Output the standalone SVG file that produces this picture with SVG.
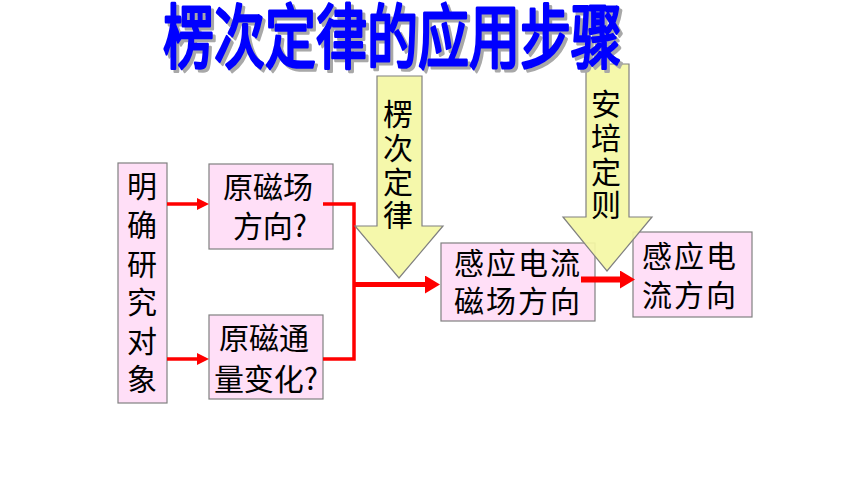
<svg xmlns="http://www.w3.org/2000/svg" width="860" height="484" viewBox="0 0 860 484">
<style>
.box{fill:#FFDFF7;stroke:#808080;stroke-width:1.2}
.yarrow{fill:#F4F7A4;stroke:#808080;stroke-width:1.2;fill-opacity:0.92}
.t{font-family:"Noto Sans CJK SC","Noto Sans",sans-serif;font-size:30px;fill:#000}
.c{text-anchor:middle}
.red{stroke:#FF0000;fill:none}
.title{font-family:"Noto Sans CJK SC","Noto Sans",sans-serif;font-size:51px;font-weight:normal;stroke-width:2.2;stroke-linejoin:round}
</style>
<defs>
<marker id="ah" markerWidth="12" markerHeight="12" refX="0" refY="6" orient="auto" markerUnits="userSpaceOnUse">
<path d="M0,0 L12,6 L0,12 Z" fill="#FF0000"/>
</marker>
<marker id="ahb" markerWidth="15" markerHeight="18" refX="0" refY="9" orient="auto" markerUnits="userSpaceOnUse">
<path d="M0,0 L15,9 L0,18 Z" fill="#FF0000"/>
</marker>
</defs>
<rect width="860" height="484" fill="#FFFFFF"/>

<g id="node-object">
<rect class="box" x="118" y="163" width="49" height="240"/>
<text class="t c" x="142" y="197">明</text>
<text class="t c" x="142" y="236">确</text>
<text class="t c" x="142" y="275">研</text>
<text class="t c" x="142" y="313">究</text>
<text class="t c" x="142" y="352">对</text>
<text class="t c" x="142" y="390">象</text>
</g>

<g id="node-field">
<rect class="box" x="209" y="164" width="124" height="85"/>
<text class="t c" x="268" y="198">原磁场</text>
<text class="t c" x="270" y="237">方向?</text>
</g>

<g id="node-flux">
<rect class="box" x="209" y="315" width="114" height="84"/>
<text class="t c" x="264" y="349">原磁通</text>
<text class="t c" x="266" y="390">量变化?</text>
</g>

<g id="node-induced-field">
<rect class="box" x="441" y="243" width="154" height="78"/>
<text class="t c" x="518" y="274" letter-spacing="2">感应电流</text>
<text class="t c" x="518" y="312" letter-spacing="2">磁场方向</text>
</g>

<g id="node-current">
<rect class="box" x="633" y="232" width="119" height="85"/>
<text class="t c" x="690" y="267" letter-spacing="2">感应电</text>
<text class="t c" x="690" y="306" letter-spacing="2">流方向</text>
</g>

<g id="connectors">
<line class="red" x1="167" y1="204" x2="197" y2="204" stroke-width="3.5" marker-end="url(#ah)"/>
<line class="red" x1="167" y1="359" x2="197" y2="359" stroke-width="3.5" marker-end="url(#ah)"/>
<polyline class="red" points="323,204 354,204 354,359 323,359" stroke-width="3.5"/>
<line class="red" x1="354" y1="284.5" x2="425" y2="284.5" stroke-width="5" marker-end="url(#ahb)"/>
</g>

<g id="node-lenz-law">
<polygon class="yarrow" points="377,76 422,76 422,226 443,226 399,278 355,226 377,226"/>
<text class="t c" x="398" y="125">楞</text>
<text class="t c" x="398" y="159">次</text>
<text class="t c" x="398" y="193">定</text>
<text class="t c" x="398" y="226">律</text>
</g>

<g id="node-ampere-rule">
<polygon class="yarrow" points="586,64 629,64 629,217 652,217 607,271 563,217 586,217"/>
<text class="t c" x="606" y="115">安</text>
<text class="t c" x="606" y="149">培</text>
<text class="t c" x="606" y="183">定</text>
<text class="t c" x="606" y="216">则</text>
</g>

<g id="connectors-2">
<line class="red" x1="581" y1="279.5" x2="620" y2="279.5" stroke-width="6" marker-end="url(#ahb)"/>
</g>

<g id="title">
<g transform="translate(166,5) scale(1,1.38)">
<text class="title" x="0" y="44.5" fill="#A8A8A8" stroke="#A8A8A8">楞次定律的应用步骤</text>
</g>
<g transform="translate(163,2) scale(1,1.38)">
<text class="title" x="0" y="44.5" fill="#0000FF" stroke="#0000FF">楞次定律的应用步骤</text>
</g>
</g>
</svg>
